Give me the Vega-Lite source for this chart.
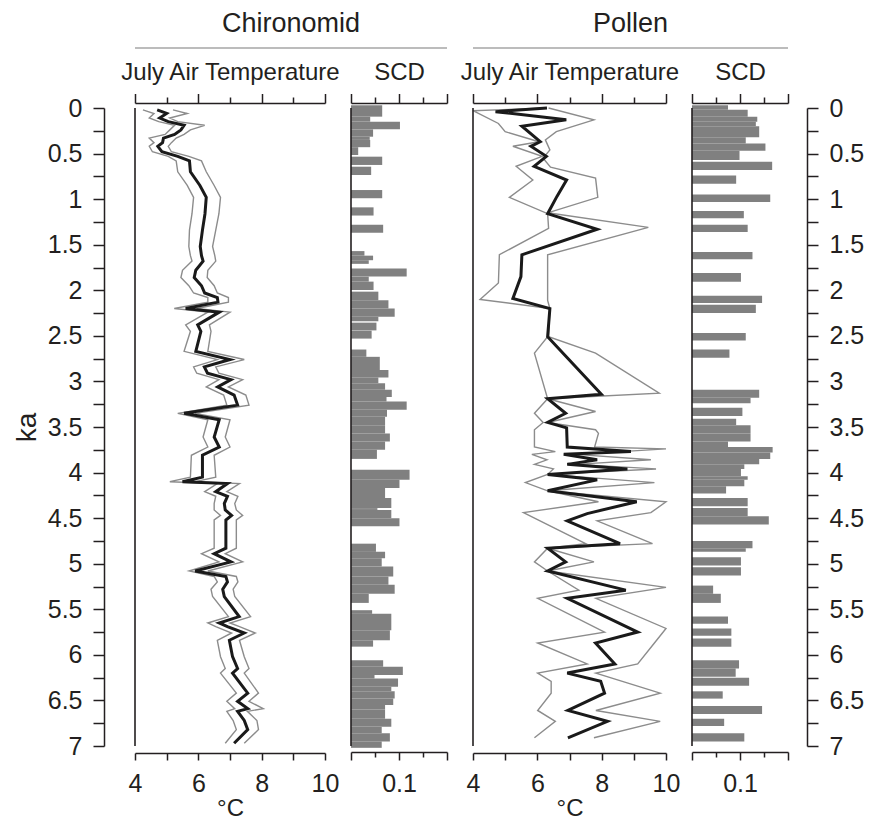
{
  "$schema": "https://vega.github.io/schema/vega-lite/v6.json",
  "background": "white",
  "padding": {"left": 13, "top": 10, "right": 5, "bottom": 5},
  "config": {
    "font": "Liberation Sans",
    "view": {"stroke": null},
    "axis": {
      "domainColor": "#231f20", "tickColor": "#231f20", "labelColor": "#231f20", "titleColor": "#231f20",
      "domainWidth": 1.5, "tickWidth": 1.5, "labelFontSize": 25, "titleFontSize": 24, "titleFontWeight": "normal",
      "grid": false, "labelFont": "Liberation Sans", "titleFont": "Liberation Sans", "labelOverlap": false, "labelFlush": false
    },
    "title": {"fontSize": 27, "fontWeight": "normal", "color": "#231f20", "font": "Liberation Sans"}
  },
  "datasets": {
    "chiro": [
      {"ka":0.02,"t":4.70,"lo":4.25,"hi":5.20},{"ka":0.06,"t":5.00,"lo":4.60,"hi":5.65},{"ka":0.11,"t":4.78,"lo":4.45,"hi":5.10},
      {"ka":0.15,"t":5.05,"lo":4.75,"hi":5.35},{"ka":0.19,"t":5.55,"lo":5.25,"hi":6.20},{"ka":0.24,"t":5.45,"lo":5.10,"hi":5.75},
      {"ka":0.29,"t":5.25,"lo":4.95,"hi":5.55},{"ka":0.33,"t":4.90,"lo":4.45,"hi":5.30},{"ka":0.38,"t":4.87,"lo":4.60,"hi":5.15},
      {"ka":0.42,"t":4.72,"lo":4.45,"hi":5.05},{"ka":0.48,"t":4.85,"lo":4.55,"hi":5.15},{"ka":0.53,"t":5.35,"lo":5.05,"hi":5.70},
      {"ka":0.58,"t":5.72,"lo":5.30,"hi":6.10},{"ka":0.70,"t":5.75,"lo":5.35,"hi":6.25},{"ka":0.85,"t":6.05,"lo":5.65,"hi":6.50},
      {"ka":0.98,"t":6.25,"lo":5.85,"hi":6.70},{"ka":1.16,"t":6.21,"lo":5.80,"hi":6.65},{"ka":1.34,"t":6.13,"lo":5.72,"hi":6.55},
      {"ka":1.52,"t":6.06,"lo":5.70,"hi":6.45},{"ka":1.62,"t":6.10,"lo":5.75,"hi":6.52},{"ka":1.68,"t":6.15,"lo":5.80,"hi":6.55},
      {"ka":1.78,"t":5.92,"lo":5.50,"hi":6.30},{"ka":1.86,"t":5.87,"lo":5.45,"hi":6.28},{"ka":1.95,"t":6.10,"lo":5.70,"hi":6.50},
      {"ka":2.03,"t":6.20,"lo":5.85,"hi":6.60},{"ka":2.08,"t":6.60,"lo":6.30,"hi":6.95},{"ka":2.13,"t":6.62,"lo":6.30,"hi":6.95},
      {"ka":2.20,"t":5.60,"lo":5.24,"hi":5.95},{"ka":2.24,"t":6.66,"lo":6.30,"hi":7.00},{"ka":2.38,"t":5.98,"lo":5.60,"hi":6.35},
      {"ka":2.45,"t":6.08,"lo":5.75,"hi":6.40},{"ka":2.67,"t":5.92,"lo":5.55,"hi":6.30},{"ka":2.76,"t":7.00,"lo":6.60,"hi":7.45},
      {"ka":2.84,"t":6.19,"lo":5.85,"hi":6.55},{"ka":2.91,"t":6.29,"lo":5.95,"hi":6.65},{"ka":2.98,"t":7.03,"lo":6.65,"hi":7.40},
      {"ka":3.06,"t":6.61,"lo":6.25,"hi":6.95},{"ka":3.15,"t":7.13,"lo":6.80,"hi":7.50},{"ka":3.26,"t":7.24,"lo":6.90,"hi":7.60},
      {"ka":3.35,"t":5.55,"lo":5.35,"hi":5.90},{"ka":3.42,"t":6.66,"lo":6.30,"hi":7.00},{"ka":3.61,"t":6.50,"lo":6.15,"hi":6.85},
      {"ka":3.72,"t":6.66,"lo":6.30,"hi":7.00},{"ka":3.81,"t":6.13,"lo":5.78,"hi":6.50},{"ka":4.05,"t":6.13,"lo":5.75,"hi":6.55},
      {"ka":4.10,"t":5.50,"lo":5.10,"hi":5.90},{"ka":4.12,"t":6.92,"lo":6.60,"hi":7.30},{"ka":4.21,"t":6.55,"lo":6.20,"hi":6.90},
      {"ka":4.26,"t":6.92,"lo":6.55,"hi":7.25},{"ka":4.34,"t":6.82,"lo":6.50,"hi":7.15},{"ka":4.41,"t":6.85,"lo":6.50,"hi":7.20},
      {"ka":4.47,"t":7.05,"lo":6.70,"hi":7.40},{"ka":4.52,"t":6.87,"lo":6.50,"hi":7.20},{"ka":4.83,"t":6.87,"lo":6.50,"hi":7.20},
      {"ka":4.89,"t":6.50,"lo":6.10,"hi":6.85},{"ka":4.98,"t":7.03,"lo":6.65,"hi":7.40},{"ka":5.08,"t":5.90,"lo":5.71,"hi":6.30},
      {"ka":5.14,"t":6.87,"lo":6.50,"hi":7.20},{"ka":5.20,"t":6.92,"lo":6.60,"hi":7.25},{"ka":5.28,"t":6.77,"lo":6.40,"hi":7.10},
      {"ka":5.36,"t":6.82,"lo":6.45,"hi":7.15},{"ka":5.58,"t":7.29,"lo":6.95,"hi":7.65},{"ka":5.65,"t":6.66,"lo":6.30,"hi":7.00},
      {"ka":5.69,"t":6.92,"lo":6.55,"hi":7.30},{"ka":5.76,"t":7.45,"lo":7.05,"hi":7.80},{"ka":5.84,"t":6.98,"lo":6.60,"hi":7.30},
      {"ka":6.02,"t":7.08,"lo":6.70,"hi":7.45},{"ka":6.15,"t":7.24,"lo":6.85,"hi":7.60},{"ka":6.20,"t":7.08,"lo":6.70,"hi":7.45},
      {"ka":6.42,"t":7.56,"lo":7.20,"hi":7.90},{"ka":6.51,"t":7.24,"lo":6.90,"hi":7.60},{"ka":6.59,"t":7.56,"lo":7.15,"hi":8.05},
      {"ka":6.62,"t":7.24,"lo":6.90,"hi":7.55},{"ka":6.72,"t":7.45,"lo":7.10,"hi":7.85},{"ka":6.82,"t":7.56,"lo":7.20,"hi":7.90},
      {"ka":6.97,"t":7.13,"lo":6.85,"hi":7.45}
    ],
    "chiroScd": [
      {"k0":-0.03,"k1":0.095,"scd":0.065},{"k0":0.095,"k1":0.15,"scd":0.040},{"k0":0.15,"k1":0.234,"scd":0.102},
      {"k0":0.234,"k1":0.315,"scd":0.046},{"k0":0.315,"k1":0.35,"scd":0.039},{"k0":0.35,"k1":0.43,"scd":0.040},
      {"k0":0.43,"k1":0.516,"scd":0.015},{"k0":0.534,"k1":0.625,"scd":0.065},{"k0":0.644,"k1":0.735,"scd":0.042},
      {"k0":0.90,"k1":0.99,"scd":0.065},{"k0":1.09,"k1":1.18,"scd":0.047},{"k0":1.28,"k1":1.37,"scd":0.067},
      {"k0":1.57,"k1":1.62,"scd":0.028},{"k0":1.62,"k1":1.67,"scd":0.046},{"k0":1.67,"k1":1.71,"scd":0.037},
      {"k0":1.76,"k1":1.85,"scd":0.116},{"k0":1.85,"k1":1.905,"scd":0.037},{"k0":1.905,"k1":1.997,"scd":0.047},
      {"k0":2.015,"k1":2.11,"scd":0.057},{"k0":2.11,"k1":2.20,"scd":0.078},{"k0":2.20,"k1":2.29,"scd":0.091},
      {"k0":2.29,"k1":2.34,"scd":0.057},{"k0":2.355,"k1":2.44,"scd":0.053},{"k0":2.443,"k1":2.53,"scd":0.043},
      {"k0":2.65,"k1":2.73,"scd":0.032},{"k0":2.73,"k1":2.875,"scd":0.060},{"k0":2.875,"k1":2.956,"scd":0.078},
      {"k0":2.956,"k1":3.02,"scd":0.057},{"k0":3.02,"k1":3.09,"scd":0.071},{"k0":3.09,"k1":3.17,"scd":0.085},
      {"k0":3.17,"k1":3.22,"scd":0.074},{"k0":3.22,"k1":3.31,"scd":0.116},{"k0":3.31,"k1":3.387,"scd":0.075},
      {"k0":3.387,"k1":3.48,"scd":0.071},{"k0":3.48,"k1":3.57,"scd":0.071},{"k0":3.57,"k1":3.66,"scd":0.081},
      {"k0":3.66,"k1":3.75,"scd":0.071},{"k0":3.75,"k1":3.85,"scd":0.054},{"k0":3.97,"k1":4.08,"scd":0.122},
      {"k0":4.08,"k1":4.17,"scd":0.101},{"k0":4.17,"k1":4.28,"scd":0.071},{"k0":4.28,"k1":4.39,"scd":0.084},
      {"k0":4.39,"k1":4.41,"scd":0.055},{"k0":4.41,"k1":4.50,"scd":0.084},{"k0":4.50,"k1":4.59,"scd":0.101},
      {"k0":4.78,"k1":4.87,"scd":0.052},{"k0":4.87,"k1":4.94,"scd":0.071},{"k0":4.94,"k1":5.03,"scd":0.064},
      {"k0":5.03,"k1":5.14,"scd":0.088},{"k0":5.14,"k1":5.23,"scd":0.078},{"k0":5.23,"k1":5.33,"scd":0.091},
      {"k0":5.33,"k1":5.43,"scd":0.037},{"k0":5.51,"k1":5.55,"scd":0.044},{"k0":5.55,"k1":5.73,"scd":0.084},
      {"k0":5.73,"k1":5.84,"scd":0.081},{"k0":5.84,"k1":5.91,"scd":0.046},{"k0":6.06,"k1":6.13,"scd":0.067},
      {"k0":6.13,"k1":6.22,"scd":0.108},{"k0":6.22,"k1":6.26,"scd":0.049},{"k0":6.26,"k1":6.35,"scd":0.098},
      {"k0":6.35,"k1":6.40,"scd":0.084},{"k0":6.40,"k1":6.48,"scd":0.091},{"k0":6.48,"k1":6.55,"scd":0.088},
      {"k0":6.55,"k1":6.60,"scd":0.071},{"k0":6.60,"k1":6.70,"scd":0.071},{"k0":6.70,"k1":6.79,"scd":0.084},
      {"k0":6.79,"k1":6.86,"scd":0.064},{"k0":6.86,"k1":6.95,"scd":0.081},{"k0":6.95,"k1":7.02,"scd":0.064}
    ],
    "pollenMid": [
      {"ka":0.00,"t":6.30},{"ka":0.04,"t":4.70},{"ka":0.13,"t":6.90},{"ka":0.20,"t":5.52},{"ka":0.37,"t":6.09},
      {"ka":0.42,"t":5.80},{"ka":0.53,"t":6.28},{"ka":0.64,"t":5.90},{"ka":0.79,"t":6.91},{"ka":0.97,"t":6.61},
      {"ka":1.16,"t":6.32},{"ka":1.33,"t":7.86},{"ka":1.61,"t":5.52},{"ka":1.85,"t":5.49},{"ka":2.09,"t":5.24},
      {"ka":2.20,"t":6.39},{"ka":2.51,"t":6.32},{"ka":3.14,"t":7.99},{"ka":3.19,"t":6.32},{"ka":3.35,"t":6.88},
      {"ka":3.45,"t":6.32},{"ka":3.51,"t":6.91},{"ka":3.72,"t":6.93},{"ka":3.77,"t":8.91},{"ka":3.80,"t":6.82},
      {"ka":3.86,"t":7.86},{"ka":3.91,"t":6.93},{"ka":3.96,"t":8.80},{"ka":4.02,"t":6.32},{"ka":4.08,"t":7.86},
      {"ka":4.20,"t":6.32},{"ka":4.32,"t":9.09},{"ka":4.45,"t":7.55},{"ka":4.53,"t":6.93},{"ka":4.78,"t":8.57},
      {"ka":4.83,"t":6.32},{"ka":4.98,"t":6.88},{"ka":5.08,"t":6.32},{"ka":5.29,"t":8.75},{"ka":5.38,"t":6.93},
      {"ka":5.75,"t":9.12},{"ka":5.87,"t":7.81},{"ka":6.10,"t":8.41},{"ka":6.20,"t":6.93},{"ka":6.29,"t":7.97},
      {"ka":6.42,"t":8.09},{"ka":6.61,"t":6.95},{"ka":6.73,"t":8.18},{"ka":6.91,"t":6.95}
    ],
    "pollenLo": [
      {"ka":0.00,"t":6.25},{"ka":0.03,"t":4.00},{"ka":0.17,"t":4.79},{"ka":0.26,"t":5.00},{"ka":0.37,"t":6.05},
      {"ka":0.42,"t":5.24},{"ka":0.53,"t":6.15},{"ka":0.64,"t":5.34},{"ka":0.79,"t":5.86},{"ka":0.98,"t":5.13},
      {"ka":1.16,"t":6.32},{"ka":1.32,"t":6.35},{"ka":1.61,"t":4.82},{"ka":1.92,"t":4.79},{"ka":2.10,"t":4.22},
      {"ka":2.20,"t":6.39},{"ka":2.51,"t":6.32},{"ka":2.69,"t":5.91},{"ka":3.19,"t":6.32},{"ka":3.35,"t":5.91},
      {"ka":3.45,"t":6.18},{"ka":3.53,"t":5.91},{"ka":3.72,"t":5.91},{"ka":3.77,"t":6.56},{"ka":3.80,"t":5.83},
      {"ka":3.86,"t":6.30},{"ka":3.91,"t":5.91},{"ka":3.96,"t":6.50},{"ka":4.02,"t":6.32},{"ka":4.11,"t":5.63},
      {"ka":4.20,"t":6.32},{"ka":4.32,"t":7.90},{"ka":4.44,"t":5.57},{"ka":4.78,"t":7.50},{"ka":4.83,"t":6.32},
      {"ka":4.98,"t":5.91},{"ka":5.08,"t":6.32},{"ka":5.29,"t":7.29},{"ka":5.38,"t":6.01},{"ka":5.75,"t":8.09},
      {"ka":5.87,"t":6.01},{"ka":6.10,"t":7.55},{"ka":6.20,"t":6.01},{"ka":6.29,"t":6.43},{"ka":6.42,"t":6.43},
      {"ka":6.61,"t":6.01},{"ka":6.73,"t":6.56},{"ka":6.91,"t":5.91}
    ],
    "pollenHi": [
      {"ka":0.00,"t":6.35},{"ka":0.13,"t":7.76},{"ka":0.26,"t":6.59},{"ka":0.35,"t":6.25},{"ka":0.46,"t":6.39},
      {"ka":0.55,"t":6.18},{"ka":0.65,"t":6.41},{"ka":0.77,"t":7.81},{"ka":0.98,"t":7.88},{"ka":1.15,"t":6.32},
      {"ka":1.31,"t":9.45},{"ka":1.61,"t":6.32},{"ka":2.11,"t":6.32},{"ka":2.20,"t":6.39},{"ka":2.51,"t":6.35},
      {"ka":2.69,"t":7.81},{"ka":3.13,"t":9.79},{"ka":3.19,"t":6.32},{"ka":3.33,"t":7.81},{"ka":3.45,"t":6.32},
      {"ka":3.53,"t":7.81},{"ka":3.57,"t":7.90},{"ka":3.72,"t":7.78},{"ka":3.74,"t":10.0},{"ka":3.80,"t":7.20},
      {"ka":3.86,"t":9.53},{"ka":3.91,"t":7.20},{"ka":3.96,"t":9.69},{"ka":4.02,"t":6.32},{"ka":4.11,"t":9.64},
      {"ka":4.20,"t":6.32},{"ka":4.32,"t":10.0},{"ka":4.44,"t":9.53},{"ka":4.53,"t":7.86},{"ka":4.78,"t":9.58},
      {"ka":4.83,"t":6.32},{"ka":4.98,"t":7.76},{"ka":5.08,"t":6.32},{"ka":5.26,"t":10.0},{"ka":5.38,"t":7.82},
      {"ka":5.71,"t":10.0},{"ka":5.87,"t":9.64},{"ka":6.10,"t":9.12},{"ka":6.20,"t":7.82},{"ka":6.42,"t":9.82},
      {"ka":6.61,"t":7.82},{"ka":6.73,"t":9.82},{"ka":6.91,"t":7.76}
    ],
    "pollenScd": [
      {"k0":-0.03,"k1":0.02,"scd":0.075},{"k0":0.02,"k1":0.095,"scd":0.116},{"k0":0.095,"k1":0.15,"scd":0.136},
      {"k0":0.15,"k1":0.20,"scd":0.133},{"k0":0.20,"k1":0.32,"scd":0.140},{"k0":0.32,"k1":0.39,"scd":0.112},
      {"k0":0.39,"k1":0.47,"scd":0.153},{"k0":0.47,"k1":0.57,"scd":0.099},{"k0":0.59,"k1":0.68,"scd":0.167},
      {"k0":0.74,"k1":0.83,"scd":0.092},{"k0":0.95,"k1":1.03,"scd":0.163},{"k0":1.13,"k1":1.21,"scd":0.108},
      {"k0":1.28,"k1":1.36,"scd":0.116},{"k0":1.58,"k1":1.66,"scd":0.126},{"k0":1.81,"k1":1.905,"scd":0.102},
      {"k0":2.06,"k1":2.14,"scd":0.146},{"k0":2.16,"k1":2.25,"scd":0.133},{"k0":2.47,"k1":2.55,"scd":0.112},
      {"k0":2.65,"k1":2.74,"scd":0.078},{"k0":3.09,"k1":3.18,"scd":0.140},{"k0":3.18,"k1":3.24,"scd":0.122},
      {"k0":3.29,"k1":3.38,"scd":0.105},{"k0":3.41,"k1":3.48,"scd":0.092},{"k0":3.48,"k1":3.57,"scd":0.122},
      {"k0":3.57,"k1":3.66,"scd":0.122},{"k0":3.66,"k1":3.72,"scd":0.075},{"k0":3.72,"k1":3.78,"scd":0.168},
      {"k0":3.78,"k1":3.85,"scd":0.163},{"k0":3.85,"k1":3.91,"scd":0.140},{"k0":3.91,"k1":3.96,"scd":0.109},
      {"k0":3.96,"k1":4.04,"scd":0.102},{"k0":4.04,"k1":4.08,"scd":0.116},{"k0":4.08,"k1":4.15,"scd":0.109},
      {"k0":4.15,"k1":4.23,"scd":0.071},{"k0":4.28,"k1":4.37,"scd":0.116},{"k0":4.39,"k1":4.48,"scd":0.116},
      {"k0":4.48,"k1":4.57,"scd":0.160},{"k0":4.75,"k1":4.83,"scd":0.126},{"k0":4.83,"k1":4.87,"scd":0.112},
      {"k0":4.93,"k1":5.02,"scd":0.102},{"k0":5.04,"k1":5.13,"scd":0.102},{"k0":5.24,"k1":5.33,"scd":0.044},
      {"k0":5.33,"k1":5.43,"scd":0.060},{"k0":5.58,"k1":5.66,"scd":0.075},{"k0":5.71,"k1":5.79,"scd":0.082},
      {"k0":5.82,"k1":5.91,"scd":0.082},{"k0":6.06,"k1":6.15,"scd":0.098},{"k0":6.15,"k1":6.24,"scd":0.091},
      {"k0":6.25,"k1":6.34,"scd":0.119},{"k0":6.40,"k1":6.48,"scd":0.064},{"k0":6.56,"k1":6.65,"scd":0.146},
      {"k0":6.70,"k1":6.78,"scd":0.067},{"k0":6.86,"k1":6.95,"scd":0.109}
    ]
  },
  "spacing": 11,
  "vconcat": [
    {
      "hconcat": [
        {
          "width": 312, "height": 1,
          "title": {"text": "Chironomid", "anchor": "middle", "offset": -12, "baseline": "alphabetic"},
          "data": {"values": [{"group": "Chironomid"}]},
          "mark": {"type": "rule", "color": "#7a7a7a", "strokeWidth": 1.2},
          "encoding": {"y": {"datum": 0, "type": "quantitative", "scale": {"domain": [0, 1]}, "axis": null}}
        },
        {
          "width": 315, "height": 1,
          "title": {"text": "Pollen", "anchor": "middle", "offset": -12, "baseline": "alphabetic"},
          "data": {"values": [{"group": "Pollen"}]},
          "mark": {"type": "rule", "color": "#7a7a7a", "strokeWidth": 1.2},
          "encoding": {"y": {"datum": 0, "type": "quantitative", "scale": {"domain": [0, 1]}, "axis": null}}
        }
      ],
      "spacing": 26,
      "bounds": "flush"
    },
    {
      "hconcat": [
        {
          "width": 190, "height": 638,
          "data": {"name": "chiro"},
          "layer": [
            {
              "mark": {"type": "line", "color": "#8c8c8c", "strokeWidth": 1.4},
              "encoding": {
                "x": {"field": "lo", "type": "quantitative", "scale": {"domain": [4, 10], "nice": false, "zero": false},
                  "axis": {"orient": "bottom", "offset": 7, "values": [4,5,6,7,8,9,10], "tickSize": 7,
                    "labelExpr": "datum.value % 2 === 0 ? datum.label : ''", "labelPadding": 11, "title": "°C", "titlePadding": 0}},
                "y": {"field": "ka", "type": "quantitative", "scale": {"domain": [0, 7], "reverse": true, "nice": false, "zero": false},
                  "axis": {"orient": "left", "offset": 31, "values": [0,0.25,0.5,0.75,1,1.25,1.5,1.75,2,2.25,2.5,2.75,3,3.25,3.5,3.75,4,4.25,4.5,4.75,5,5.25,5.5,5.75,6,6.25,6.5,6.75,7],
                    "tickSize": 11, "labelPadding": 11, "labelExpr": "(datum.value * 4) % 2 === 0 ? '' + datum.value : ''",
                    "title": "ka", "titleFontSize": 28, "titlePadding": 6}},
                "order": {"field": "ka", "type": "quantitative"}
              }
            },
            {
              "mark": {"type": "line", "color": "#8c8c8c", "strokeWidth": 1.4},
              "encoding": {
                "x": {"field": "hi", "type": "quantitative", "scale": {"domain": [4, 10], "nice": false, "zero": false},
                  "axis": {"orient": "top", "offset": 5, "values": [4,5,6,7,8,9,10],
                    "tickSize": {"condition": {"test": "datum.value % 2 === 0", "value": 9.5}, "value": 6},
                    "labels": false, "title": "July Air Temperature", "titlePadding": 8}},
                "y": {"field": "ka", "type": "quantitative", "scale": {"domain": [0, 7], "reverse": true, "nice": false, "zero": false}, "axis": null},
                "order": {"field": "ka", "type": "quantitative"}
              }
            },
            {
              "mark": {"type": "line", "color": "#1a1a1a", "strokeWidth": 3},
              "encoding": {
                "x": {"field": "t", "type": "quantitative", "scale": {"domain": [4, 10], "nice": false, "zero": false}, "axis": null},
                "y": {"field": "ka", "type": "quantitative", "scale": {"domain": [0, 7], "reverse": true, "nice": false, "zero": false}, "axis": null},
                "order": {"field": "ka", "type": "quantitative"}
              }
            },
            {
              "data": {"values": [{"edge": "left"}]},
              "mark": {"type": "rule", "color": "#231f20", "strokeWidth": 1.6},
              "encoding": {"x": {"datum": 4, "type": "quantitative", "scale": {"domain": [4, 10], "nice": false, "zero": false}, "axis": null}}
            }
          ],
          "resolve": {"axis": {"x": "independent", "y": "independent"}}
        },
        {
          "width": 96, "height": 638,
          "layer": [
            {
              "data": {"name": "chiroScd"},
              "mark": {"type": "rect", "color": "#808080"},
              "encoding": {
                "x": {"field": "scd", "type": "quantitative", "scale": {"domain": [0, 0.2], "nice": false, "zero": false},
                  "axis": {"orient": "bottom", "offset": 6, "values": [0, 0.05, 0.1, 0.15, 0.2],
                    "tickSize": {"condition": {"test": "abs(datum.value*10 - round(datum.value*10)) < 0.001", "value": 8}, "value": 5},
                    "labelExpr": "abs(datum.value - 0.1) < 0.001 ? '0.1' : ''", "labelPadding": 11, "title": null}},
                "x2": {"datum": 0},
                "y": {"field": "k0", "type": "quantitative", "scale": {"domain": [0, 7], "reverse": true, "nice": false, "zero": false}, "axis": null},
                "y2": {"field": "k1"}
              }
            },
            {
              "data": {"values": [{"edge": "left"}]},
              "mark": {"type": "rule", "color": "#231f20", "strokeWidth": 1.6},
              "encoding": {"x": {"datum": 0, "type": "quantitative", "scale": {"domain": [0, 0.2], "nice": false, "zero": false},
                "axis": {"orient": "top", "offset": 5, "values": [0, 0.05, 0.1, 0.15, 0.2],
                  "tickSize": {"condition": {"test": "abs(datum.value*10 - round(datum.value*10)) < 0.001", "value": 9.5}, "value": 6},
                  "labels": false, "title": "SCD", "titlePadding": 8}}}
            }
          ],
          "resolve": {"axis": {"x": "independent", "y": "independent"}}
        },
        {
          "width": 193, "height": 638,
          "layer": [
            {
              "data": {"name": "pollenLo"},
              "mark": {"type": "line", "color": "#8c8c8c", "strokeWidth": 1.4},
              "encoding": {
                "x": {"field": "t", "type": "quantitative", "scale": {"domain": [4, 10], "nice": false, "zero": false},
                  "axis": {"orient": "bottom", "offset": 7, "values": [4,5,6,7,8,9,10], "tickSize": 7,
                    "labelExpr": "datum.value % 2 === 0 ? datum.label : ''", "labelPadding": 11, "title": "°C", "titlePadding": 0}},
                "y": {"field": "ka", "type": "quantitative", "scale": {"domain": [0, 7], "reverse": true, "nice": false, "zero": false}, "axis": null},
                "order": {"field": "ka", "type": "quantitative"}
              }
            },
            {
              "data": {"name": "pollenHi"},
              "mark": {"type": "line", "color": "#8c8c8c", "strokeWidth": 1.4},
              "encoding": {
                "x": {"field": "t", "type": "quantitative", "scale": {"domain": [4, 10], "nice": false, "zero": false},
                  "axis": {"orient": "top", "offset": 5, "values": [4,5,6,7,8,9,10],
                    "tickSize": {"condition": {"test": "datum.value % 2 === 0", "value": 9.5}, "value": 6},
                    "labels": false, "title": "July Air Temperature", "titlePadding": 8}},
                "y": {"field": "ka", "type": "quantitative", "scale": {"domain": [0, 7], "reverse": true, "nice": false, "zero": false}, "axis": null},
                "order": {"field": "ka", "type": "quantitative"}
              }
            },
            {
              "data": {"name": "pollenMid"},
              "mark": {"type": "line", "color": "#1a1a1a", "strokeWidth": 3},
              "encoding": {
                "x": {"field": "t", "type": "quantitative", "scale": {"domain": [4, 10], "nice": false, "zero": false}, "axis": null},
                "y": {"field": "ka", "type": "quantitative", "scale": {"domain": [0, 7], "reverse": true, "nice": false, "zero": false}, "axis": null},
                "order": {"field": "ka", "type": "quantitative"}
              }
            },
            {
              "data": {"values": [{"edge": "left"}]},
              "mark": {"type": "rule", "color": "#231f20", "strokeWidth": 1.6},
              "encoding": {"x": {"datum": 4, "type": "quantitative", "scale": {"domain": [4, 10], "nice": false, "zero": false}, "axis": null}}
            }
          ],
          "resolve": {"axis": {"x": "independent", "y": "independent"}}
        },
        {
          "width": 96, "height": 638,
          "layer": [
            {
              "data": {"name": "pollenScd"},
              "mark": {"type": "rect", "color": "#808080"},
              "encoding": {
                "x": {"field": "scd", "type": "quantitative", "scale": {"domain": [0, 0.2], "nice": false, "zero": false},
                  "axis": {"orient": "bottom", "offset": 6, "values": [0, 0.05, 0.1, 0.15, 0.2],
                    "tickSize": {"condition": {"test": "abs(datum.value*10 - round(datum.value*10)) < 0.001", "value": 8}, "value": 5},
                    "labelExpr": "abs(datum.value - 0.1) < 0.001 ? '0.1' : ''", "labelPadding": 11, "title": null}},
                "x2": {"datum": 0},
                "y": {"field": "k0", "type": "quantitative", "scale": {"domain": [0, 7], "reverse": true, "nice": false, "zero": false},
                  "axis": {"orient": "right", "offset": 19, "values": [0,0.25,0.5,0.75,1,1.25,1.5,1.75,2,2.25,2.5,2.75,3,3.25,3.5,3.75,4,4.25,4.5,4.75,5,5.25,5.5,5.75,6,6.25,6.5,6.75,7],
                    "tickSize": 11, "labelPadding": 11, "labelExpr": "(datum.value * 4) % 2 === 0 ? '' + datum.value : ''", "title": null}},
                "y2": {"field": "k1"}
              }
            },
            {
              "data": {"values": [{"edge": "left"}]},
              "mark": {"type": "rule", "color": "#231f20", "strokeWidth": 1.6},
              "encoding": {"x": {"datum": 0, "type": "quantitative", "scale": {"domain": [0, 0.2], "nice": false, "zero": false},
                "axis": {"orient": "top", "offset": 5, "values": [0, 0.05, 0.1, 0.15, 0.2],
                  "tickSize": {"condition": {"test": "abs(datum.value*10 - round(datum.value*10)) < 0.001", "value": 9.5}, "value": 6},
                  "labels": false, "title": "SCD", "titlePadding": 8}}}
            }
          ],
          "resolve": {"axis": {"x": "independent", "y": "independent"}}
        }
      ],
      "spacing": 26,
      "bounds": "flush"
    }
  ]
}
